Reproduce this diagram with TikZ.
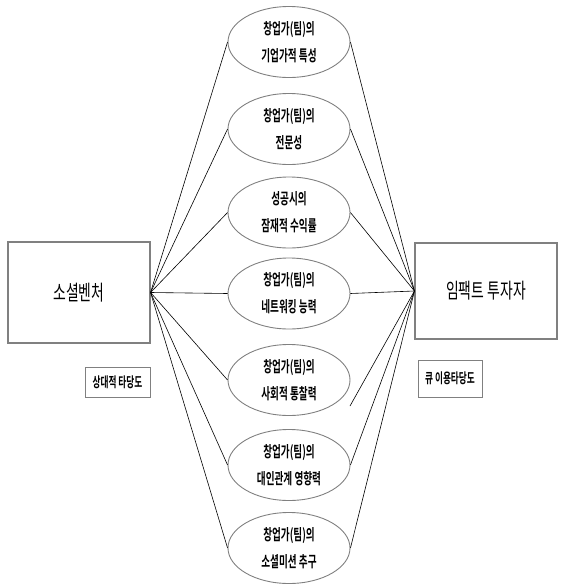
\documentclass[tikz,border=0pt]{standalone}
\usepackage{fontspec}
\newfontfamily\kr[FakeStretch=0.62,BoldFont={Noto Sans CJK KR Bold},BoldFeatures={FakeStretch=0.62}]{Noto Sans CJK KR}
\newfontfamily\krbig[FakeStretch=0.66]{Noto Sans CJK KR}
\usetikzlibrary{shapes.geometric}
\begin{document}
\begin{tikzpicture}[x=1pt,y=-1pt,
 bub/.style={ellipse, draw=gray, line width=0.9pt, minimum width=122pt, minimum height=71pt, inner sep=0pt, align=center, font=\kr\bfseries\fontsize{15.5}{27}\selectfont},
 bigbox/.style={draw=gray, line width=1.1pt, inner sep=0pt, font=\krbig\fontsize{21}{22}\selectfont},
 tag/.style={draw=gray, line width=0.9pt, inner sep=0pt, font=\kr\bfseries\fontsize{14}{14}\selectfont},
 link/.style={line width=0.6pt}]
\useasboundingbox (0,0) rectangle (565,584);
\node[bigbox, minimum width=142pt, minimum height=101pt] (lb) at (79,292.5) {소셜벤처};
\node[bigbox, minimum width=142pt, minimum height=96pt] (rb) at (486,291) {임팩트 투자자};
\node[bub] (e1) at (289,42) {창업가(팀)의\\기업가적 특성};
\node[bub] (e2) at (289,129) {창업가(팀)의\\전문성};
\node[bub] (e3) at (289,212.5) {성공시의\\잠재적 수익률};
\node[bub] (e4) at (289,293.5) {창업가(팀)의\\네트워킹 능력};
\node[bub] (e5) at (289,380) {창업가(팀)의\\사회적 통찰력};
\node[bub] (e6) at (289,465) {창업가(팀)의\\대인관계 영향력};
\node[bub] (e7) at (289,548) {창업가(팀)의\\소셜미션 추구};
\node[tag, minimum width=65pt, minimum height=30pt] (t1) at (117.5,382) {상대적 타당도};
\node[tag, minimum width=64pt, minimum height=37pt] (t2) at (450,378.5) {큐 이용타당도};
\coordinate (r5) at (350,406);
\foreach \e in {e1,e2,e3,e4,e5,e6,e7}{
  \draw[link] (lb.east) -- (\e.west);
}
\foreach \e in {e1,e2,e3,e4,e6,e7}{
  \draw[link] (rb.west) -- (\e.east);
}
\draw[link] (rb.west) -- (r5);
\end{tikzpicture}
\end{document}
